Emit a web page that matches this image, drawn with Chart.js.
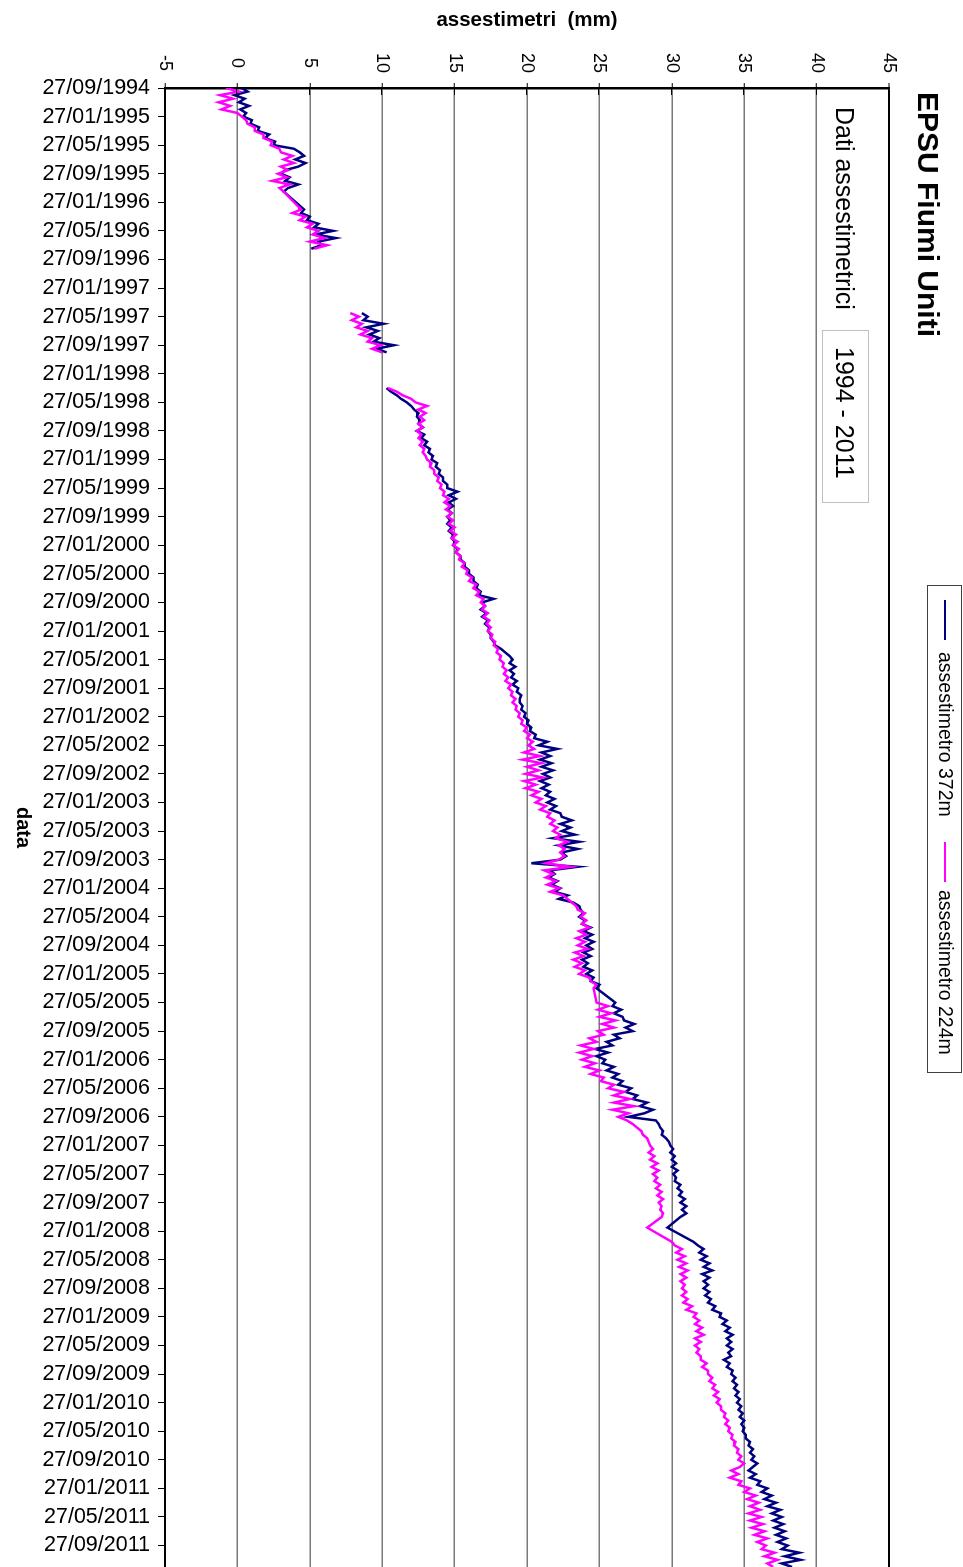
<!DOCTYPE html>
<html>
<head>
<meta charset="utf-8">
<title>EPSU Fiumi Uniti - assestimetri</title>
<script src="https://cdn.jsdelivr.net/npm/chart.js@4.4.1/dist/chart.umd.min.js"></script>
<style>
  html, body { margin: 0; padding: 0; background: #fff; overflow: hidden; }
  #frame { position: relative; width: 963px; height: 1567px; overflow: hidden; background: #fff; }
  /* the chart is laid out landscape and turned a quarter turn clockwise */
  #chart { position: absolute; left: 0; top: 0; transform-origin: 0 0; transform: translate(963px, 0) rotate(90deg); }
</style>
</head>
<body>
<div id="frame"><canvas id="chart" width="1567" height="963"></canvas></div>
<script>
// Date axis: one label every four months, starting 27/09/1994
const dateLabels = [
  '27/09/1994','27/01/1995','27/05/1995','27/09/1995','27/01/1996','27/05/1996','27/09/1996',
  '27/01/1997','27/05/1997','27/09/1997','27/01/1998','27/05/1998','27/09/1998','27/01/1999',
  '27/05/1999','27/09/1999','27/01/2000','27/05/2000','27/09/2000','27/01/2001','27/05/2001',
  '27/09/2001','27/01/2002','27/05/2002','27/09/2002','27/01/2003','27/05/2003','27/09/2003',
  '27/01/2004','27/05/2004','27/09/2004','27/01/2005','27/05/2005','27/09/2005','27/01/2006',
  '27/05/2006','27/09/2006','27/01/2007','27/05/2007','27/09/2007','27/01/2008','27/05/2008',
  '27/09/2008','27/01/2009','27/05/2009','27/09/2009','27/01/2010','27/05/2010','27/09/2010',
  '27/01/2011','27/05/2011','27/09/2011'
];
const tickStepMonths = 4;     // months between date labels
const axisEndMonth = 207;     // months after 27/09/1994 shown on the axis

// Readings are taken every half month; each run starts at the given month
const sampleStep = 0.5;
const runStarts = [0, 17, 31.5, 42, 52, 62, 72, 82, 92, 102, 112, 122, 128, 138, 148, 159.5, 161.5, 171.5, 181.5, 191.5, 201.5];

// assestimetro 372m (mm)
const runs372 = [
  [0.3,0.7,-0.2,0.5,0.1,0.8,0.2,0.6,0.4,1.0,0.9,1.5,1.4,2.2,1.9,2.6,2.5,3.9,4.3,4.6,4.0,4.7,4.2,3.3,3.0,3.6,3.3,4.2,3.5,3.2],
  [4.6,4.4,5.0,4.8,5.6,5.3,6.6,5.4,6.8,5.6,5.8,5.1],
  [8.6,9.0,8.7,10.1,8.9,9.7,9.1,9.8,9.4,10.8,9.6,10.3],
  [10.3,10.6,11.0,11.3,11.7,12.0,12.2,12.5,12.4,12.6,12.5,12.8,12.4,12.9,12.7,13.1,12.9,13.3,13.2,13.5],
  [13.4,13.8,13.7,14.0,13.9,14.2,14.2,14.5,14.5,15.2,14.6,15.1,14.6,14.9,14.5,14.8,14.5,14.7,14.5,14.8],
  [14.6,14.9,14.8,15.0,14.9,15.2,15.1,15.4,15.4,15.7,15.7,16.0,16.0,16.3,16.3,16.6,16.5,16.8,16.7,17.7],
  [16.9,17.1,16.8,17.2,16.9,17.3,17.1,17.4,17.3,17.5,17.5,17.7,17.8,18.2,18.5,18.8,19.0,18.8,19.2,18.8],
  [19.1,18.9,19.3,19.0,19.4,19.3,19.6,19.5,19.5,19.7,19.6,19.9,19.8,20.1,20.0,20.3,20.2,20.6,20.5,21.4],
  [20.8,22.1,21.0,21.6,20.9,21.7,21.0,21.8,21.1,21.6,20.9,21.5,21.0,21.6,21.3,21.9,21.4,22.0,21.6,22.3],
  [22.4,23.1,22.3,23.0,22.4,23.3,21.8,23.6,22.2,23.5,22.4,22.7,22.3,20.3,23.5,21.6,21.9,21.5,22.1,21.7],
  [22.3,21.9,22.8,22.2,23.2,23.6,23.7,23.9,23.6,24.0,23.8,24.4,23.9,24.5,24.0,24.6,24.1,24.5,23.9,24.4],
  [23.8,24.2,23.9,24.5,24.1,24.6,24.4,25.0,24.8],
  [26.1,25.9,26.5,26.0,26.6,26.7,27.4,26.8,27.3,26.0,26.4,25.5,25.9,24.7,25.6,24.8,25.4,25.2,26.0,25.5],
  [26.3,25.9,26.6,26.3,27.2,26.8,27.6,27.3,28.3,27.8,28.7,28.1,27.0,28.9,29.1,29.2,29.4,29.3,29.6,29.8],
  [29.9,30.1,29.9,30.2,30.0,30.3,30.0,30.4,30.1,30.3,30.2,30.6,30.4,30.7,30.5,30.9,30.6,31.0,30.7,31.0,30.6],
  [29.7],
  [31.5,31.8,32.2,31.9,32.4,32.0,32.6,32.2,32.8,32.1,32.6,32.2,32.5,32.2,32.6,32.3,32.7,32.5,33.0,32.8],
  [33.4,33.3,33.8,33.5,34.0,33.7,34.2,33.8,34.1,33.8,34.2,33.9,34.1,33.6,34.0,33.8,34.2,34.1,34.4,34.2],
  [34.5,34.3,34.6,34.4,34.7,34.5,34.8,34.6,34.9,34.7,35.0,34.8,35.0,34.9,35.1,35.1,35.4,35.3,35.6,35.4],
  [35.7,35.5,35.9,35.6,35.3,35.8,35.4,36.1,35.9,36.6,36.2,36.9,36.4,37.2,36.6,37.5,36.9,37.6,37.0,37.7],
  [37.1,37.8,37.2,37.9,37.3,38.0,37.6,38.8,37.8,38.9,37.6,38.3]
];

// assestimetro 224m (mm)
const runs224 = [
  [-0.8,0.1,-1.2,-0.3,-1.3,-0.5,-1.1,0.0,0.3,0.6,0.7,1.2,1.2,1.8,1.8,2.4,2.3,2.9,3.0,3.8,3.2,3.9,3.0,3.5,2.8,3.4,2.4,3.6,2.9,3.2],
  [4.4,3.8,4.7,4.3,5.2,4.8,5.6,5.2,6.0,5.0,6.2,5.3],
  [7.8,8.4,7.9,8.6,8.2,9.0,8.5,9.3,9.0,9.9,9.3,10.0],
  [10.4,11.0,11.4,12.0,12.3,13.1,12.5,13.0,12.6,12.9,12.5,12.8,12.4,12.7,12.5,12.8,12.6,12.9,12.8,13.0],
  [13.1,13.4,13.3,13.6,13.6,13.9,13.8,14.1,14.0,14.3,14.2,14.6,14.3,14.7,14.4,14.8,14.5,14.9,14.6,15.0],
  [14.7,15.1,14.8,15.2,14.9,15.3,15.1,15.4,15.3,15.7,15.5,15.9,15.8,16.2,16.0,16.5,16.3,16.7,16.5,17.0],
  [16.8,17.1,16.9,17.3,17.0,17.4,17.2,17.5,17.3,17.6,17.5,17.8,17.7,18.0,17.9,18.2,18.1,18.4,18.3,18.6],
  [18.4,18.7,18.5,18.9,18.7,19.0,18.9,19.2,19.0,19.3,19.2,19.5,19.4,19.7,19.6,20.0,19.8,20.2,20.0,20.4],
  [20.1,20.5,19.8,20.9,19.7,21.0,20.0,20.8,19.9,21.1,19.8,20.6,19.9,20.8,20.3,21.0,20.6,21.3,20.9,21.6],
  [21.4,21.9,21.6,22.1,21.8,22.3,22.0,22.8,22.2,22.6,22.3,22.6,22.2,21.3,23.0,21.2,21.8,21.3,22.0,21.4],
  [22.2,21.6,22.5,22.8,23.1,23.4,23.5,24.0,23.7,24.1,23.8,24.3,23.6,24.1,23.4,24.0,23.5,24.2,23.3,23.9],
  [23.2,23.8,23.3,24.0,23.6,24.3,24.4,24.8,24.6],
  [24.8,25.6,24.9,25.8,25.0,26.1,25.2,26.0,24.9,25.3,24.3,24.8,23.7,24.6,23.6,24.5,23.8,24.7,24.0,25.0],
  [24.4,25.3,25.1,26.0,25.6,26.7,26.0,27.1,26.0,27.4,25.9,27.0,26.3,26.9,27.3,27.6,27.9,28.0,28.3,28.4],
  [28.5,28.7,28.4,28.8,28.5,29.0,28.6,29.1,28.7,29.0,28.8,29.2,28.9,29.3,29.0,29.4,29.1,29.3,29.2,29.4,29.3],
  [28.3],
  [30.0,30.2,30.7,30.3,30.9,30.4,31.0,30.5,31.1,30.6,31.0,30.6,30.9,30.7,31.0,30.7,31.1,30.8,31.4,31.0],
  [31.7,31.5,31.9,31.6,32.1,31.7,32.2,31.6,32.0,31.6,31.9,31.7,32.0,32.0,32.4,32.1,32.5,32.5,32.8,32.6],
  [33.0,32.8,33.2,32.9,33.3,33.1,33.4,33.4,33.7,33.6,33.9,33.7,34.0,33.9,34.2,34.1,34.4,34.3,34.6,34.5],
  [34.8,34.6,35.0,34.7,34.1,34.6,34.0,34.8,34.6,35.4,35.0,35.8,35.2,36.0,35.4,36.1,35.3,36.2,35.4,36.3],
  [35.5,36.4,35.7,36.6,35.9,36.5,36.2,37.1,36.4,37.3,36.6,37.0]
];

const seriesNames = ['assestimetro 372m', 'assestimetro 224m'];
const seriesColors = ['#000080', '#ff00ff'];
const valueMin = -5, valueMax = 45, valueStep = 5;

const chartTitle = 'EPSU Fiumi Uniti';
const subTitle = 'Dati assestimetrici';
const periodText = '1994 - 2011';
const valueAxisTitle = 'assestimetri  (mm)';
const dateAxisTitle = 'data';

const FONT = '"Liberation Sans", Arial, Helvetica, sans-serif';
Chart.defaults.font.family = FONT;
Chart.defaults.color = '#000';

function toPoints(runs) {
  const pts = [];
  runs.forEach((vals, r) => {
    vals.forEach((v, k) => pts.push({ x: runStarts[r] + k * sampleStep, y: v }));
  });
  return pts;
}

// titles, period box, legend and the inner half of the value-axis tick marks
const decorations = {
  id: 'decorations',
  afterDraw(chart) {
    const { ctx, chartArea } = chart;
    const ys = chart.scales.y;
    ctx.save();

    ctx.strokeStyle = '#000';
    ctx.lineWidth = 1;
    ys.ticks.forEach(t => {
      const p = Math.round(ys.getPixelForValue(t.value)) + 0.5;
      ctx.beginPath();
      ctx.moveTo(chartArea.left, p);
      ctx.lineTo(chartArea.left + 7, p);
      ctx.stroke();
    });

    ctx.fillStyle = '#000';
    ctx.textAlign = 'left';
    ctx.textBaseline = 'alphabetic';
    ctx.font = 'bold 30px ' + FONT;
    ctx.fillText(chartTitle, 92, 45);

    ctx.font = '25px ' + FONT;
    ctx.fillText(subTitle, 107, 127);

    ctx.fillStyle = '#fff';
    ctx.fillRect(330, 94, 172, 46);
    ctx.strokeStyle = '#c0c0c0';
    ctx.strokeRect(330.5, 94.5, 172, 46);
    ctx.fillStyle = '#000';
    ctx.fillText(periodText, 347, 127);

    // legend
    ctx.fillStyle = '#fff';
    ctx.fillRect(585, 1, 487, 34);
    ctx.strokeStyle = '#404040';
    ctx.lineWidth = 1;
    ctx.strokeRect(585.5, 1.5, 487, 34);
    const items = [{ x: 600, text: 652 }, { x: 842, text: 890 }];
    ctx.font = '19.5px ' + FONT;
    ctx.textBaseline = 'middle';
    items.forEach((it, i) => {
      ctx.strokeStyle = seriesColors[i];
      ctx.lineWidth = 2;
      ctx.beginPath();
      ctx.moveTo(it.x, 18);
      ctx.lineTo(it.x + 40, 18);
      ctx.stroke();
      ctx.fillStyle = '#000';
      ctx.fillText(seriesNames[i], it.text, 19);
    });
    ctx.restore();
  }
};

new Chart(document.getElementById('chart'), {
  type: 'line',
  data: {
    datasets: [
      { label: seriesNames[0], data: toPoints(runs372), borderColor: seriesColors[0], backgroundColor: seriesColors[0],
        borderWidth: 2.5, pointRadius: 0, tension: 0, spanGaps: 3, order: 2 },
      { label: seriesNames[1], data: toPoints(runs224), borderColor: seriesColors[1], backgroundColor: seriesColors[1],
        borderWidth: 2.5, pointRadius: 0, tension: 0, spanGaps: 3, order: 1 }
    ]
  },
  options: {
    responsive: false,
    animation: false,
    devicePixelRatio: 1,
    layout: { padding: { top: 74, left: 0, right: 0, bottom: 0 } },
    plugins: { legend: { display: false }, title: { display: false }, tooltip: { enabled: false } },
    scales: {
      x: {
        type: 'linear',
        position: 'bottom',
        min: 0,
        max: axisEndMonth,
        afterBuildTicks(scale) {
          scale.ticks = dateLabels.map((_, i) => ({ value: i * tickStepMonths }));
        },
        afterFit(scale) { scale.height = 165; scale.paddingLeft = 0; scale.paddingRight = 0; },
        ticks: {
          autoSkip: false, minRotation: 90, maxRotation: 90, padding: 8,
          font: { size: 21.5 }, color: '#000',
          callback: (v, i) => dateLabels[i]
        },
        grid: { drawOnChartArea: false, drawTicks: true, tickLength: 7, tickColor: '#000', tickWidth: 1 },
        border: { display: true, color: '#000', width: 2 },
        title: { display: true, text: dateAxisTitle, font: { size: 20, weight: 'bold' }, padding: { top: 0, bottom: 11 } }
      },
      y: {
        type: 'linear',
        position: 'left',
        min: valueMin,
        max: valueMax,
        afterFit(scale) { scale.width = 88; scale.paddingTop = 0; scale.paddingBottom = 0; },
        ticks: { stepSize: valueStep, padding: 10, crossAlign: 'center', font: { size: 18 }, color: '#000' },
        grid: {
          drawTicks: true, tickLength: 5, tickColor: '#000', tickWidth: 1,
          color: c => (c.tick && c.tick.value === valueMax ? '#000' : '#7a7a7a'),
          lineWidth: c => (c.tick && c.tick.value === valueMax ? 2 : 1.5)
        },
        border: { display: true, color: '#000', width: 2.5 },
        title: { display: true, text: valueAxisTitle, font: { size: 20.5, weight: 'bold' }, padding: { top: 8, bottom: 0 } }
      }
    }
  },
  plugins: [decorations]
});
</script>
</body>
</html>
